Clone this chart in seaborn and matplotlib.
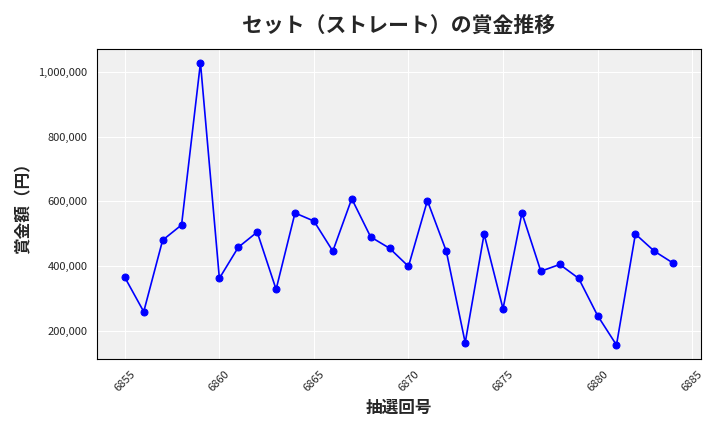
import numpy as np
import pandas as pd
import seaborn as sns
import matplotlib.pyplot as plt
from matplotlib.ticker import FuncFormatter

draws = list(range(6855, 6885))
prizes = [365000, 259000, 480000, 527000, 1028000, 362000, 458000, 505000, 328000, 564000,
          539000, 446000, 608000, 490000, 455000, 399000, 602000, 446000, 163000, 499000,
          268000, 564000, 384000, 405000, 362000, 247000, 156000, 499000, 446000, 409000]

sns.set_style("darkgrid", {"axes.facecolor": "#f0f0f0", "grid.color": "white"})
plt.rcParams['font.family'] = ['Noto Sans CJK JP', 'DejaVu Sans']

df = pd.DataFrame({"draw": draws, "prize": prizes})
fig, ax = plt.subplots(figsize=(7.2, 4.32), dpi=100)
sns.lineplot(data=df, x="draw", y="prize", color="blue", marker="o",
             markersize=5, markeredgecolor="blue", linewidth=1.2, ax=ax)
ax.set_title("セット（ストレート）の賞金推移", fontsize=15, fontweight="bold", pad=12)
ax.set_xlabel("抽選回号", fontsize=12, fontweight="bold")
ax.set_ylabel("賞金額（円）", fontsize=12, fontweight="bold")
ax.yaxis.set_major_formatter(FuncFormatter(lambda v, p: f"{int(v):,}"))
ax.set_xticks(range(6855, 6886, 5))
ax.tick_params(axis="x", labelrotation=45, labelsize=8)
ax.tick_params(axis="y", labelsize=8)
for s in ax.spines.values():
    s.set_visible(True)
    s.set_color("black")
    s.set_linewidth(0.8)
fig.tight_layout()
fig.savefig("out.png")
